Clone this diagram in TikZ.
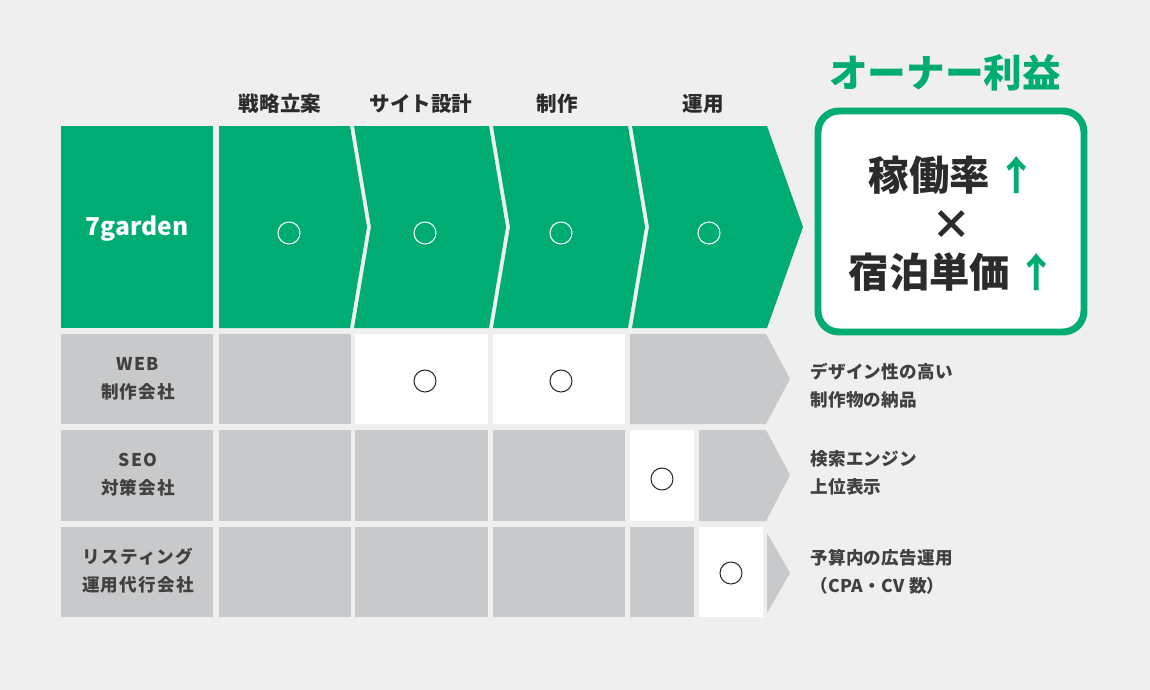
\documentclass[tikz,border=0pt]{standalone}
\usepackage{fontspec}
\setmainfont{Noto Sans CJK JP}
\usepackage{tikz}
\usepackage{xcolor}
\usetikzlibrary{positioning,calc}

\definecolor{brandgreen}{HTML}{00AC73}
\definecolor{cellgray}{HTML}{C8C9CB}
\definecolor{bgcol}{HTML}{EFEFEF}
\definecolor{inkdark}{HTML}{2B2B2B}

\tikzset{
  mark circle/.style={draw=#1, line width=0.6pt, circle, minimum size=22*0.02cm, inner sep=0pt},
  header/.style={font=\bfseries\fontsize{11.7}{13}\selectfont, text=inkdark},
  rowlabel/.style={font=\bfseries\fontsize{10}{16}\selectfont\addfontfeatures{LetterSpace=7}, text=inkdark!90, align=center},
  effect/.style={font=\bfseries\fontsize{10}{16}\selectfont\addfontfeatures{LetterSpace=2}, text=inkdark!90, align=left, anchor=west},
  bigtext/.style={font=\bfseries\fontsize{23}{26}\selectfont, text=inkdark}
}

\begin{document}
\begin{tikzpicture}[x=0.02cm, y=-0.02cm]
        % background
        \fill[bgcol] (0,0) rectangle (1150,690);
        \useasboundingbox (0,0) rectangle (1150,690);

        % ============================================================
        % Header row - phases
        % ============================================================
        \node[header] (hdrPlan) at (280,104) {戦略立案};
        \node[header] (hdrDesign) at (421,104) {サイト設計};
        \node[header] (hdrBuild) at (557,104) {制作};
        \node[header] (hdrRun) at (703,104) {運用};

        % ============================================================
        % 7garden - green chevrons
        % ============================================================
        \fill[brandgreen] (61,126) rectangle (213,328);
        \fill[brandgreen] (219,126) -- (350,126) -- (367,227) -- (350,328) -- (219,328) -- cycle;
        \fill[brandgreen] (354,126) -- (489,126) -- (506,227) -- (489,328) -- (354,328) -- (371,227) -- cycle;
        \fill[brandgreen] (493,126) -- (628,126) -- (645,227) -- (628,328) -- (493,328) -- (510,227) -- cycle;
        \fill[brandgreen] (632,126) -- (767,126) -- (803,227) -- (767,328) -- (632,328) -- (649,227) -- cycle;

        \node[text=white, font=\bfseries\fontsize{14}{16}\selectfont] (ownName) at (137,229) {7garden};

        \node[mark circle=white] (ownPlan) at (289,233) {};
        \node[mark circle=white] (ownDesign) at (425,233) {};
        \node[mark circle=white] (ownBuild) at (561,233) {};
        \node[mark circle=white] (ownRun) at (709,233) {};

        % ============================================================
        % WEB agency row
        % ============================================================
        \fill[cellgray] (61,334) rectangle (213,424);
        \fill[cellgray] (219,334) rectangle (351,424);
        \fill[white] (355,334) rectangle (488,424);
        \fill[white] (493,334) rectangle (625,424);
        \fill[cellgray] (630,334) -- (766,334) -- (790,379) -- (766,424) -- (630,424) -- cycle;

        \node[rowlabel] (webName) at (138,379) {WEB\\制作会社};
        \node[mark circle=inkdark] (webDesign) at (425,381) {};
        \node[mark circle=inkdark] (webBuild) at (561,381) {};
        \node[effect] (webGain) at (804,386) {デザイン性の高い\\制作物の納品};

        % ============================================================
        % SEO agency row
        % ============================================================
        \fill[cellgray] (61,430) rectangle (213,521);
        \fill[cellgray] (219,430) rectangle (351,521);
        \fill[cellgray] (355,430) rectangle (488,521);
        \fill[cellgray] (493,430) rectangle (625,521);
        \fill[white] (630,430) rectangle (694,521);
        \fill[cellgray] (699,430) -- (766,430) -- (790,475) -- (766,521) -- (699,521) -- cycle;

        \node[rowlabel] (seoName) at (138,475) {SEO\\対策会社};
        \node[mark circle=inkdark] (seoRun) at (662,479) {};
        \node[effect] (seoGain) at (804,473) {検索エンジン\\上位表示};

        % ============================================================
        % Listing ads agency row
        % ============================================================
        \fill[cellgray] (61,527) rectangle (213,617);
        \fill[cellgray] (219,527) rectangle (351,617);
        \fill[cellgray] (355,527) rectangle (488,617);
        \fill[cellgray] (493,527) rectangle (625,617);
        \fill[cellgray] (630,527) rectangle (694,617);
        \fill[white] (699,527) rectangle (763,617);
        \fill[cellgray] (767,533) -- (790,573) -- (767,613) -- cycle;

        \node[rowlabel] (adsName) at (138,571) {リスティング\\運用代行会社};
        \node[mark circle=inkdark] (adsRun) at (731,573) {};
        \node[effect] (adsGain) at (804,572) {予算内の広告運用\\（CPA・CV 数）};

        % ============================================================
        % Owner profit box
        % ============================================================
        \node[text=brandgreen, font=\bfseries\fontsize{22}{26}\selectfont] (profitTitle) at (945,73) {オーナー利益};
        \draw[brandgreen, fill=white, line width=7*0.567pt, rounded corners=12pt] (818,111) rectangle (1084,332);

        \node[bigtext] (rateLine) at (953,175) {稼働率\,\textcolor{brandgreen}{↑}};
        \node[bigtext] (timesSign) at (952,225) {×};
        \node[bigtext] (priceLine) at (953,272) {宿泊単価\,\textcolor{brandgreen}{↑}};

    \end{tikzpicture}
\end{document}
